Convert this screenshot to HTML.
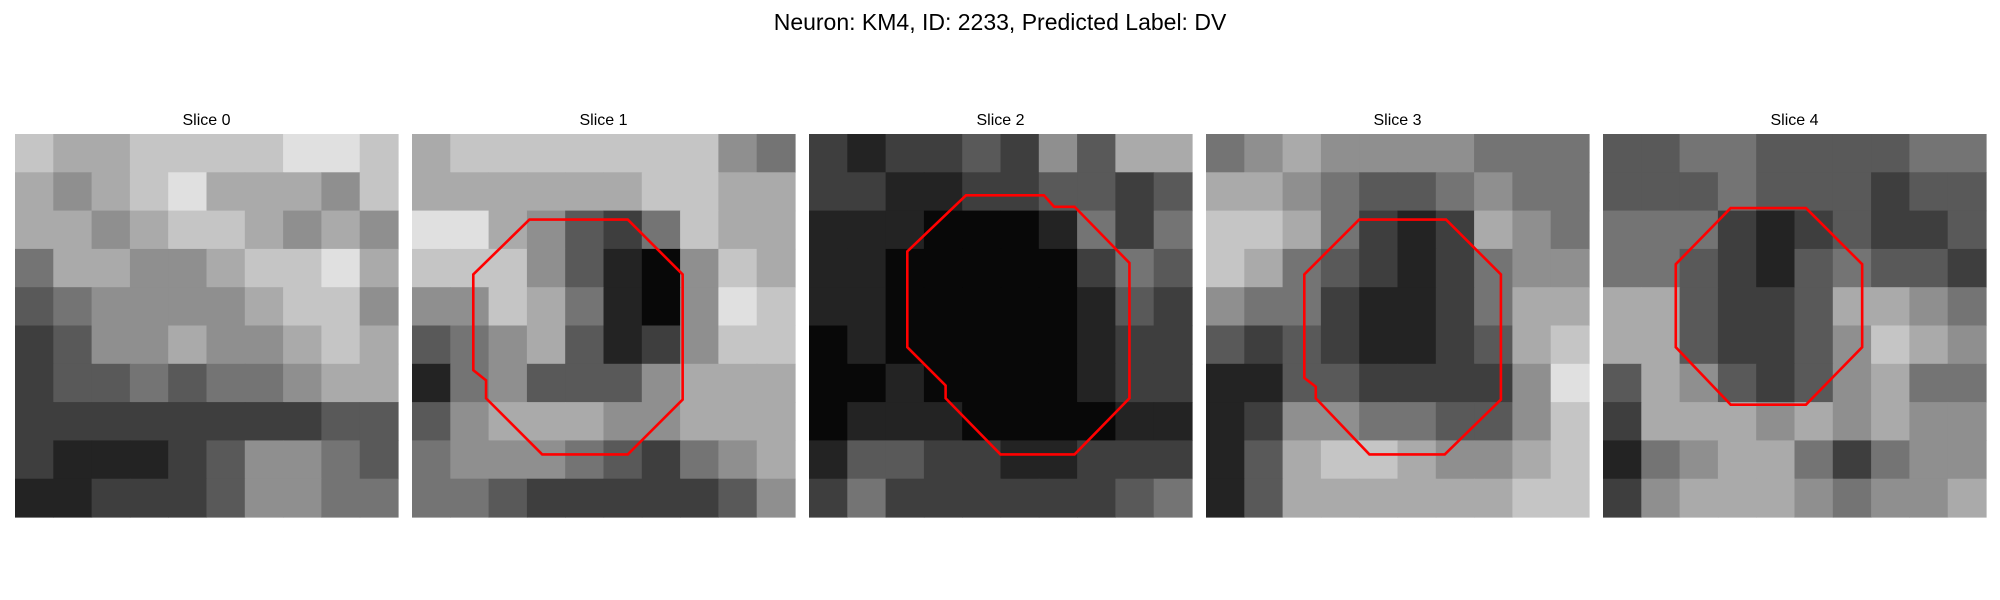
<!DOCTYPE html>
<html><head><meta charset="utf-8"><style>
html,body{margin:0;padding:0;background:#fff;}
svg{display:block;font-family:"Liberation Sans","DejaVu Sans",sans-serif;}
</style></head><body>
<svg id="chart" width="2000" height="600" viewBox="0 0 2000 600">
<text x="1000" y="30" text-anchor="middle" font-size="23" fill="#000">Neuron: KM4, ID: 2233, Predicted Label: DV</text>
</svg>
<script>
const sliceTitles=["Slice 0","Slice 1","Slice 2","Slice 3","Slice 4"];
const slice0=[[7,6,6,7,7,7,7,8,8,7],[6,5,6,7,8,6,6,6,5,7],[6,6,5,6,7,7,6,5,6,5],[4,6,6,5,5,6,7,7,8,6],[3,4,5,5,5,5,6,7,7,5],[2,3,5,5,6,5,5,6,7,6],[2,3,3,4,3,4,4,5,6,6],[2,2,2,2,2,2,2,2,3,3],[2,1,1,1,2,3,5,5,4,3],[1,1,2,2,2,3,5,5,4,4]];
const slice1=[[6,7,7,7,7,7,7,7,5,4],[6,6,6,6,6,6,7,7,6,6],[8,8,6,5,3,2,4,7,6,6],[7,7,7,5,3,1,0,5,7,6],[5,5,7,6,4,1,0,5,8,7],[3,4,5,6,3,1,2,5,7,7],[1,4,5,3,3,3,5,6,6,6],[3,5,6,6,6,5,5,6,6,6],[4,5,5,5,4,3,2,4,5,6],[4,4,3,2,2,2,2,2,3,5]];
const slice2=[[2,1,2,2,3,2,5,3,6,6],[2,2,1,1,2,2,3,3,2,3],[1,1,1,0,0,0,1,4,2,4],[1,1,0,0,0,0,0,2,4,3],[1,1,0,0,0,0,0,1,3,2],[0,1,0,0,0,0,0,1,2,2],[0,0,1,0,0,0,0,1,2,2],[0,1,1,1,0,0,0,0,1,1],[1,3,3,2,2,1,1,2,2,2],[2,4,2,2,2,2,2,2,3,4]];
const slice3=[[4,5,6,5,5,5,5,4,4,4],[6,6,5,4,3,3,4,5,4,4],[7,7,6,4,2,1,2,6,5,4],[7,6,4,3,2,1,2,4,5,5],[5,4,4,2,1,1,2,4,6,6],[3,2,3,2,1,1,2,3,6,7],[1,1,3,3,2,2,2,2,5,8],[1,2,5,5,4,4,3,3,5,7],[1,3,6,7,7,6,5,5,6,7],[1,3,6,6,6,6,6,6,7,7]];
const slice4=[[3,3,4,4,3,3,3,3,4,4],[3,3,3,4,3,3,3,2,3,3],[4,4,4,2,1,2,3,2,2,3],[4,4,3,2,1,3,4,3,3,2],[6,6,3,2,2,3,6,6,5,4],[6,6,3,2,2,3,5,7,6,5],[3,6,5,3,2,3,5,6,4,4],[2,6,6,6,5,6,5,6,5,5],[1,4,5,6,6,4,2,4,5,5],[2,5,6,6,6,5,4,5,5,6]];
const contour1=[[4.8,11],[9.2,6.7],[16.9,6.7],[21.2,11],[21.2,20.8],[16.9,25.1],[10.2,25.1],[5.8,20.7],[5.8,19.3],[4.8,18.5]];
const contour2=[[7.7,9.2],[12.3,4.8],[18.4,4.8],[19.2,5.7],[20.8,5.7],[25.1,10.1],[25.1,20.7],[20.8,25.1],[15,25.1],[10.7,20.7],[10.7,19.7],[7.7,16.7]];
const contour3=[[7.7,11],[12,6.7],[18.8,6.7],[23.1,11],[23.1,20.8],[18.7,25.1],[12.8,25.1],[8.6,20.7],[8.6,19.8],[7.7,19.1]];
const contour4=[[5.7,10.2],[10,5.8],[15.9,5.8],[20.3,10.2],[20.3,16.7],[15.9,21.2],[10,21.2],[5.7,16.7]];
const slices=[slice0,slice1,slice2,slice3,slice4];
const contours=[null,contour1,contour2,contour3,contour4];
const NS="http://www.w3.org/2000/svg";
const svg=document.getElementById('chart');
const panelLeft=[15,412,809,1206,1603], panelTop=134, panelSize=383;
function xPix(p,u){return panelLeft[p]+u/30*panelSize;}
function yPix(u){return panelTop+u/30*panelSize;}
function gray(v){const g=Math.round(8+v*27);return `rgb(${g},${g},${g})`;}
slices.forEach((grid,p)=>{
  const g=document.createElementNS(NS,'g');
  
  
  const n=grid.length, cs=panelSize/n;
  grid.forEach((row,r)=>row.forEach((v,c)=>{
    const rect=document.createElementNS(NS,'rect');
    
    
    rect.setAttribute('x',panelLeft[p]+c*cs);rect.setAttribute('y',panelTop+r*cs);
    rect.setAttribute('width',cs+0.6);rect.setAttribute('height',cs+0.6);
    rect.setAttribute('fill',gray(v));g.appendChild(rect);
  }));
  const t=document.createElementNS(NS,'text');
  
  
  t.setAttribute('x',panelLeft[p]+panelSize/2);t.setAttribute('y',125);
  t.setAttribute('text-anchor','middle');t.setAttribute('font-size','16');
  t.textContent=sliceTitles[p];g.appendChild(t);
  if(contours[p]){
    const pl=document.createElementNS(NS,'polygon');
    
    
    pl.setAttribute('points',contours[p].map(q=>xPix(p,q[0])+','+yPix(q[1])).join(' '));
    pl.setAttribute('fill','none');pl.setAttribute('stroke','#ff0000');pl.setAttribute('stroke-width','2.6');
    g.appendChild(pl);
  }
  svg.appendChild(g);
});
</script>
</body></html>
